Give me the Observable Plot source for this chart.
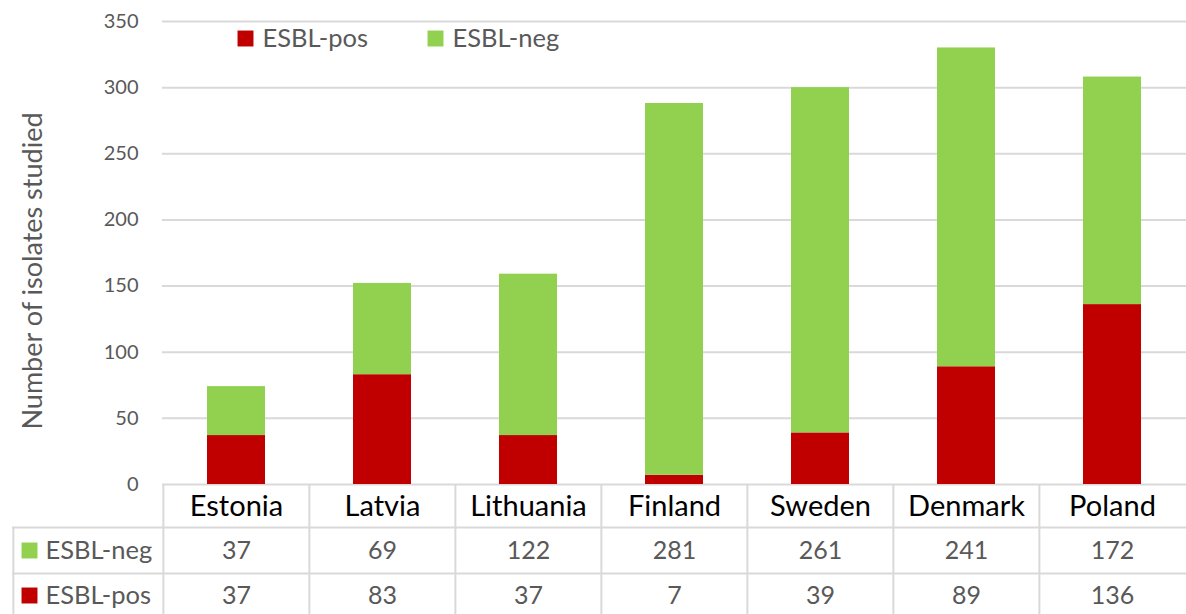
<!DOCTYPE html>
<html>
<head>
<meta charset="utf-8">
<script src="https://cdn.jsdelivr.net/npm/d3@7"></script>
<script src="https://cdn.jsdelivr.net/npm/@observablehq/plot@0.6"></script>
<style>
  html, body { margin: 0; padding: 0; background: #fff; }
  #chart svg { display: block; font-family: Lato, "Open Sans", sans-serif; }
</style>
</head>
<body>
<div id="chart"></div>
<script>
const countries = ["Estonia", "Latvia", "Lithuania", "Finland", "Sweden", "Denmark", "Poland"];
const esblPos = [37, 83, 37, 7, 39, 89, 136];
const esblNeg = [37, 69, 122, 281, 261, 241, 172];
const seriesNames = ["ESBL-pos", "ESBL-neg"];
const seriesColors = ["#C00000", "#92D050"];
const yTicks = [0, 50, 100, 150, 200, 250, 300, 350];
const yLabel = "Number of isolates studied";

const rows = countries.map((c, i) => ({country: c, pos: esblPos[i], neg: esblNeg[i]}));
const long = rows.flatMap(r => [
  {country: r.country, series: "ESBL-pos", value: r.pos},
  {country: r.country, series: "ESBL-neg", value: r.neg}
]);

const W = 1186, H = 614;
const mL = 162, mR = 0, mT = 21, mB = 130;
const step = (W - mL - mR) / countries.length;
const grid = "#d9d9d9";
const gray = "#595959";

const chart = Plot.plot({
  width: W,
  height: H,
  marginLeft: mL,
  marginRight: mR,
  marginTop: mT,
  marginBottom: mB,
  x: {domain: countries, paddingInner: 0.6, paddingOuter: 0.3, axis: null},
  y: {domain: [0, 350], axis: null},
  color: {domain: seriesNames, range: seriesColors},
  marks: [
    Plot.gridY(yTicks, {stroke: grid, strokeOpacity: 1, strokeWidth: 2}),
    Plot.axisY(yTicks, {tickSize: 0, tickPadding: 24, fontSize: 20, fill: gray, label: null}),
    Plot.barY(long, {x: "country", y: "value", fill: "series", order: seriesNames}),
    // y axis title
    Plot.text([yLabel], {frameAnchor: "left", dx: -129, dy: 18, rotate: -90, textAnchor: "middle", lineAnchor: "middle", fontSize: 27, fill: gray}),
    // legend at top
    Plot.dot([seriesNames[0]], {frameAnchor: "top-left", dx: 83, dy: 17, symbol: "square", r: 9, fill: seriesColors[0], stroke: null}),
    Plot.text([seriesNames[0]], {frameAnchor: "top-left", dx: 100, dy: 17, textAnchor: "start", lineAnchor: "middle", fontSize: 25.5, fill: gray}),
    Plot.dot([seriesNames[1]], {frameAnchor: "top-left", dx: 273, dy: 17, symbol: "square", r: 9, fill: seriesColors[1], stroke: null}),
    Plot.text([seriesNames[1]], {frameAnchor: "top-left", dx: 290, dy: 17, textAnchor: "start", lineAnchor: "middle", fontSize: 25.5, fill: gray}),
    // data table: vertical borders
    Plot.ruleX(countries, {x: d => d, dx: -step / 2, insetTop: H - mB - mT, insetBottom: -mB, stroke: grid, strokeWidth: 2}),
    Plot.ruleX([countries[0]], {x: d => d, dx: -step / 2 - 150, insetTop: H - mB - mT + 43, insetBottom: -mB, stroke: grid, strokeWidth: 2}),
    // data table: horizontal borders
    Plot.ruleY([0], {y: d => d, dy: 43, insetLeft: -150, stroke: grid, strokeWidth: 2}),
    Plot.ruleY([0], {y: d => d, dy: 89, insetLeft: -150, stroke: grid, strokeWidth: 2}),
    // category labels
    Plot.text(countries, {x: d => d, frameAnchor: "bottom", dy: 22, lineAnchor: "middle", fontSize: 29, fill: "#000"}),
    // values
    Plot.text(rows, {x: "country", text: d => String(d.neg), frameAnchor: "bottom", dy: 66, lineAnchor: "middle", fontSize: 25, fill: gray}),
    Plot.text(rows, {x: "country", text: d => String(d.pos), frameAnchor: "bottom", dy: 111, lineAnchor: "middle", fontSize: 25, fill: gray}),
    // row headers
    Plot.dot([seriesNames[1]], {frameAnchor: "bottom-left", dx: -133, dy: 66, symbol: "square", r: 9, fill: seriesColors[1], stroke: null}),
    Plot.text([seriesNames[1]], {frameAnchor: "bottom-left", dx: -117, dy: 66, textAnchor: "start", lineAnchor: "middle", fontSize: 25.5, fill: gray}),
    Plot.dot([seriesNames[0]], {frameAnchor: "bottom-left", dx: -133, dy: 111, symbol: "square", r: 9, fill: seriesColors[0], stroke: null}),
    Plot.text([seriesNames[0]], {frameAnchor: "bottom-left", dx: -117, dy: 111, textAnchor: "start", lineAnchor: "middle", fontSize: 25.5, fill: gray})
  ]
});
document.getElementById("chart").appendChild(chart);
</script>
</body>
</html>
